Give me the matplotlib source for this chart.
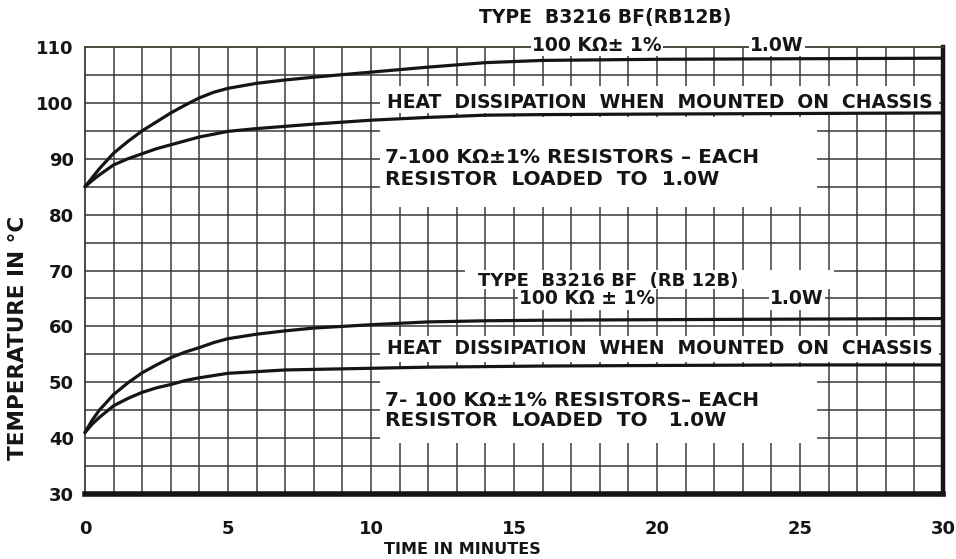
import matplotlib
matplotlib.use("Agg")
import matplotlib.pyplot as plt
from matplotlib.patches import Rectangle

# Warm-up curves of B3216 BF (RB12B) resistors, temperature vs. time
time_min = [0, 0.25, 0.5, 1, 1.5, 2, 2.5, 3, 3.5, 4, 4.5, 5, 6, 7, 8, 10, 12, 14, 16, 20, 25, 30]

# Upper pair (ambient start ~85 °C)
hot_single = [85, 86.6, 88.2, 91.0, 93.1, 95.0, 96.6, 98.2, 99.6, 100.9, 101.9, 102.6, 103.5,
              104.1, 104.6, 105.5, 106.4, 107.2, 107.6, 107.8, 107.9, 108.0]
hot_chassis = [85, 86.1, 87.1, 88.9, 90.0, 90.9, 91.8, 92.5, 93.2, 93.9, 94.4, 94.9, 95.4,
               95.8, 96.2, 96.9, 97.4, 97.8, 97.9, 98.0, 98.1, 98.2]

# Lower pair (ambient start ~41 °C)
cool_single = [41, 43.2, 45.0, 47.8, 49.9, 51.7, 53.1, 54.4, 55.4, 56.2, 57.1, 57.8, 58.6,
               59.2, 59.7, 60.3, 60.8, 61.0, 61.1, 61.2, 61.3, 61.4]
cool_chassis = [41, 42.5, 43.7, 45.8, 47.1, 48.2, 49.0, 49.6, 50.3, 50.8, 51.2, 51.6, 51.9,
                52.2, 52.3, 52.5, 52.7, 52.8, 52.9, 53.0, 53.1, 53.1]

x_ticks = [0, 5, 10, 15, 20, 25, 30]
y_ticks = [30, 40, 50, 60, 70, 80, 90, 100, 110]

FONT = "DejaVu Sans"
INK = "#151515"
GRID = "#3a3a3a"

fig = plt.figure(figsize=(9.56, 5.59), dpi=100)
ax = fig.add_axes([85 / 956, 1 - 494 / 559, (943 - 85) / 956, (494 - 47) / 559])
ax.set_xlim(0, 30)
ax.set_ylim(30, 110)

# graph-paper grid: 1 minute by 5 degrees
for t in range(1, 30):
    ax.axvline(t, color=GRID, lw=1.1, zorder=1)
for d in range(35, 110, 5):
    ax.axhline(d, color=GRID, lw=1.1, zorder=1)

# white label panels pasted over the grid
panels = [(10.3, 98.2, 29.85 - 10.3, 103.0 - 98.2),
          (10.3, 81.4, 25.6 - 10.3, 97.5 - 81.4),
          (13.3, 66.6, 26.2 - 13.3, 70.0 - 66.6),
          (10.3, 53.6, 29.85 - 10.3, 58.3 - 53.6),
          (10.3, 39.1, 25.6 - 10.3, 52.7 - 39.1)]
for x0, y0, w, h in panels:
    ax.add_patch(Rectangle((x0, y0), w, h, facecolor="white", edgecolor="none", zorder=2))

for series in (hot_single, hot_chassis, cool_single, cool_chassis):
    ax.plot(time_min, series, color=INK, lw=2.3, solid_capstyle="round",
            solid_joinstyle="round", zorder=4, clip_on=False)

# frame
for side in ("left", "top"):
    ax.spines[side].set_color("#3d3d30")
    ax.spines[side].set_linewidth(1.3)
ax.spines["bottom"].set_color(INK)
ax.spines["bottom"].set_linewidth(4.0)
ax.spines["right"].set_color(INK)
ax.spines["right"].set_linewidth(3.2)

ax.set_xticks(x_ticks)
ax.set_yticks(y_ticks)
ax.set_xticklabels([str(v) for v in x_ticks])
ax.set_yticklabels([str(v) for v in y_ticks])
ax.tick_params(length=0)
ax.tick_params(axis="x", pad=19)
ax.tick_params(axis="y", pad=8)
for lab in ax.get_xticklabels() + ax.get_yticklabels():
    lab.set_fontfamily(FONT)
    lab.set_fontweight("bold")
    lab.set_fontsize(13)
    lab.set_color(INK)

fig.text(462 / 956, 1 - 550 / 559, "TIME IN MINUTES", ha="center", va="center",
         fontsize=11.5, fontweight="bold", family=FONT, color=INK)
fig.text(18 / 956, 1 - 338 / 559, "TEMPERATURE IN °C", ha="center", va="center",
         rotation=90, fontsize=15.5, fontweight="bold", family=FONT, color=INK)

lbl = dict(fontsize=13.5, fontweight="bold", family=FONT, color=INK, zorder=5, clip_on=False)
big = dict(lbl, fontsize=14.5)
wbox = dict(facecolor="white", edgecolor="none", pad=1.0)

# upper group
ax.text(18.2, 115.2, "TYPE  B3216 BF(RB12B)", ha="center", va="center", **lbl)
ax.text(17.9, 110.3, "100 KΩ± 1%", ha="center", va="center", bbox=wbox, **lbl)
ax.text(24.2, 110.3, "1.0W", ha="center", va="center", bbox=wbox, **lbl)
ax.text(20.1, 100.0, "HEAT  DISSIPATION  WHEN  MOUNTED  ON  CHASSIS", ha="center", va="center", **lbl)
ax.text(10.5, 90.3, "7-100 KΩ±1% RESISTORS – EACH", ha="left", va="center", **big)
ax.text(10.5, 86.2, "RESISTOR  LOADED  TO  1.0W", ha="left", va="center", **big)

# lower group
ax.text(18.3, 68.2, "TYPE  B3216 BF  (RB 12B)", ha="center", va="center", **dict(lbl, fontsize=13))
ax.text(17.55, 64.9, "100 KΩ ± 1%", ha="center", va="center", bbox=wbox, **lbl)
ax.text(24.9, 64.9, "1.0W", ha="center", va="center", bbox=wbox, **lbl)
ax.text(20.1, 56.1, "HEAT  DISSIPATION  WHEN  MOUNTED  ON  CHASSIS", ha="center", va="center", **lbl)
ax.text(10.5, 46.8, "7- 100 KΩ±1% RESISTORS– EACH", ha="left", va="center", **big)
ax.text(10.5, 43.2, "RESISTOR  LOADED  TO   1.0W", ha="left", va="center", **big)

fig.savefig("out.png", dpi=100, facecolor="white")
